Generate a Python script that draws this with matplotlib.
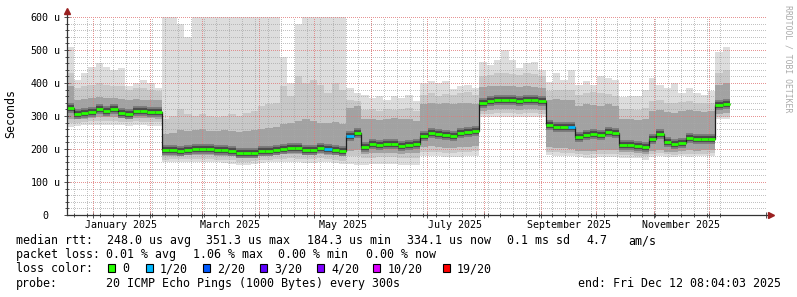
import datetime as dt

import numpy as np
import matplotlib
matplotlib.use("Agg")
import matplotlib.pyplot as plt
import matplotlib.transforms as mtransforms
from matplotlib.patches import Rectangle

plt.rcParams["font.family"] = "DejaVu Sans Mono"

W, H = 797, 297

# one consolidated step every 4 days, day 0 = 2025-01-01
step_days = 4
first_day = -14.5

# median rtt per step (microseconds)
median = [
    325, 305, 308, 313, 320, 316, 320, 310, 306, 316, 314, 313, 312,
    197, 196, 195, 197, 201, 201, 199, 197, 197, 193, 189, 189, 188, 194, 194, 196,
    199, 204, 202, 197, 198, 204, 199, 198, 194,
    238, 248,
    207, 215, 213, 214, 214, 210, 212, 214,
    240, 248, 246, 242, 240, 250, 251, 256,
    340, 345, 347, 350, 350, 346, 347, 348, 345,
    273, 268, 267, 266,
    236, 242, 244, 242, 252, 250,
    211, 212, 210, 206,
    230, 245, 222, 216, 219, 232, 229, 229, 230,
    333, 335,
]
# smoke envelope: max / min of all pings
top = [
    510, 410, 430, 450, 460, 450, 440, 445, 390, 400, 410, 400, 385,
    620, 620, 580, 540, 620, 620, 620, 620, 620, 620, 620, 620, 620, 620, 620, 620,
    480, 400, 580, 620, 620, 620, 620, 620, 620,
    385, 370,
    365, 355, 360, 350, 360, 355, 365, 345,
    400, 405, 400, 405, 382, 390, 394, 385,
    465, 455, 470, 500, 470, 445, 460, 465, 440,
    404, 430, 409, 440,
    394, 405, 395, 420, 415, 410,
    358, 360, 360, 380,
    415, 395, 385, 400, 370, 385, 370, 365, 375,
    495, 510,
]
bottom = [
    268, 270, 272, 272, 274, 273, 274, 272, 270, 272, 272, 271, 270,
    160, 160, 160, 162, 162, 162, 162, 160, 158, 155, 152, 152, 155, 158, 160, 162,
    160, 162, 160, 158, 158, 160, 160, 157, 155,
    155, 152,
    152, 154, 155, 155, 154, 152, 152, 152,
    178, 180, 178, 176, 176, 177, 178, 180,
    296, 298, 298, 298, 297, 296, 297, 298, 296,
    181, 180, 179, 178,
    175, 173, 174, 175, 176, 175,
    174, 174, 172, 168,
    176, 178, 177, 176, 178, 177, 178, 178, 178,
    290, 291,
]
p90 = [
    430, 385, 390, 395, 400, 395, 390, 392, 380, 385, 385, 380, 375,
    290, 300, 320, 305, 300, 305, 300, 298, 300, 305, 300, 310, 315, 330, 335, 340,
    390, 360, 420, 400, 410, 395, 370, 400, 380,
    350, 345,
    318, 320, 315, 322, 318, 320, 325, 315,
    365, 370, 360, 368, 365, 370, 372, 365,
    420, 425, 430, 430, 428, 425, 430, 428, 420,
    375, 380, 378, 380,
    365, 370, 372, 370, 368, 360,
    320, 322, 318, 325,
    345, 350, 340, 338, 342, 345, 340, 338, 340,
    430, 440,
]
p75 = [
    390, 350, 352, 355, 358, 355, 356, 352, 348, 352, 350, 350, 348,
    245, 250, 258, 255, 258, 260, 256, 255, 258, 255, 252, 255, 258, 262, 265, 268,
    275, 280, 285, 290, 285, 280, 278, 282, 275,
    325, 330,
    292, 290, 288, 292, 295, 290, 290, 285,
    335, 340, 335, 338, 336, 340, 340, 335,
    388, 390, 392, 390, 390, 388, 390, 388, 385,
    350, 352, 348, 350,
    330, 335, 332, 330, 335, 330,
    290, 292, 288, 290,
    315, 318, 312, 310, 315, 318, 315, 312, 315,
    395, 400,
]
p25 = [
    292, 290, 292, 295, 298, 296, 297, 293, 290, 295, 294, 293, 292,
    178, 180, 180, 182, 183, 183, 182, 180, 180, 178, 175, 175, 176, 180, 181, 182,
    184, 186, 184, 182, 183, 186, 183, 182, 178,
    195, 198,
    186, 188, 188, 189, 188, 186, 187, 188,
    205, 208, 206, 204, 203, 206, 207, 210,
    316, 318, 320, 320, 320, 318, 320, 320, 318,
    205, 203, 202, 200,
    195, 193, 195, 196, 198, 196,
    190, 190, 188, 186,
    195, 198, 192, 190, 195, 196, 195, 196, 197,
    305, 308,
]
p10 = [
    280, 280, 282, 284, 286, 285, 286, 283, 281, 284, 283, 283, 282,
    168, 169, 169, 170, 171, 171, 170, 168, 168, 166, 162, 162, 164, 168, 168, 170,
    170, 172, 170, 169, 170, 172, 170, 168, 165,
    178, 180,
    172, 174, 175, 176, 175, 172, 173, 174,
    190, 192, 190, 188, 188, 190, 191, 193,
    305, 307, 308, 308, 308, 307, 308, 308, 306,
    190, 190, 189, 188,
    185, 183, 184, 186, 186, 185,
    181, 181, 180, 178,
    185, 187, 184, 182, 185, 186, 185, 186, 187,
    297, 298,
]
# lost pings (out of 20) per step
loss = [
    0, 0, 0, 0, 0, 0, 0, 0, 0, 0, 0, 0, 0,
    0, 0, 0, 0, 0, 0, 0, 0, 0, 0, 0, 0, 0, 0, 0, 0,
    0, 0, 0, 0, 0, 0, 1, 0, 0,
    1, 0,
    0, 0, 0, 0, 0, 0, 0, 0,
    0, 0, 0, 0, 0, 0, 0, 0,
    0, 0, 0, 0, 0, 0, 0, 0, 0,
    0, 0, 0, 1,
    0, 0, 0, 0, 0, 0,
    0, 0, 0, 0,
    0, 0, 0, 0, 0, 0, 0, 0, 0,
    0, 0,
]

loss_labels = ["0", "1/20", "2/20", "3/20", "4/20", "10/20", "19/20"]
loss_values = [0, 1, 2, 3, 4, 10, 19]
loss_palette = ["#26ff00", "#00b8ff", "#0059ff", "#5e00ff", "#7e00ff", "#dd00ff", "#ff0000"]

stats_rtt = ["248.0 us avg", "351.3 us max", "184.3 us min", "334.1 us now", "0.1 ms sd", "4.7", "am/s"]
stats_loss = ["0.01 % avg", "1.06 % max", "0.00 % min", "0.00 % now"]
probe_text = "20 ICMP Echo Pings (1000 Bytes) every 300s"
end_text = "end: Fri Dec 12 08:04:03 2025"


def day(y, m, d):
    return (dt.date(y, m, d) - dt.date(2025, 1, 1)).days


month_starts = [day(2025, m, 1) for m in range(1, 13)] + [day(2026, 1, 1)]
label_months = [(1, "January 2025"), (3, "March 2025"), (5, "May 2025"),
                (7, "July 2025"), (9, "September 2025"), (11, "November 2025")]

GRID = "#a8a8a8"
MGRID = "#e07a7a"
AXIS = "#333333"
ARROW = "#9a2020"

L, R, T, B = 66.5, 766, 17, 215
fig = plt.figure(figsize=(W / 100, H / 100), dpi=100)
fig.patch.set_facecolor("white")
ax = fig.add_axes([L / W, 1 - B / H, (R - L) / W, (B - T) / H])
ax.set_xlim(-14.3, 345.6)
ax.set_ylim(0, 600)
for s in ax.spines.values():
    s.set_visible(False)

edges = first_day + step_days * np.arange(len(median) + 1)

# smoke
ax.stairs(top, edges, baseline=bottom, fill=True, color="#dddddd", lw=0, zorder=1)
ax.stairs(p90, edges, baseline=p10, fill=True, color="#c8c8c8", lw=0, zorder=1)
ax.stairs(p75, edges, baseline=p25, fill=True, color="#a2a2a2", lw=0, zorder=1)

# dotted grid
dots = dict(lw=0.72, ls=(0, (1, 2)), antialiased=False, zorder=2)
for v in range(20, 601, 20):
    if v % 100:
        ax.axhline(v, color=GRID, alpha=0.7, **dots)
for d in np.arange(-10, 346, 7):
    ax.axvline(d, color=GRID, alpha=0.7, **dots)
for v in range(100, 601, 100):
    ax.axhline(v, color=MGRID, alpha=0.8, **dots)
for d in month_starts:
    ax.axvline(d, color=MGRID, alpha=0.8, **dots)

# median with dark core, coloured by loss
ax.hlines(median, edges[:-1], edges[1:], colors="#787878", lw=7.0, zorder=3)
ax.hlines(median, edges[:-1], edges[1:], colors="#4a4a4a", lw=4.2, zorder=3)
ax.stairs(median, edges, baseline=None, color="#1e1e1e", lw=0.9, zorder=3)
seg_colors = [loss_palette[loss_values.index(l)] for l in loss]
ax.hlines(median, edges[:-1], edges[1:], colors=seg_colors, lw=2.0, zorder=4)

# ticks and axes
ax.set_xticks(month_starts)
ax.set_xticks(np.arange(-10, 346, 7), minor=True)
ax.set_yticks(range(0, 601, 100))
ax.set_yticks(range(0, 601, 20), minor=True)
ax.tick_params(which="major", direction="inout", length=4, width=0.6, color=AXIS,
               labelbottom=False, labelleft=False)
ax.tick_params(which="minor", direction="inout", length=2.5, width=0.6, color=AXIS)
ax.plot([0, 0], [0, 1.025], transform=ax.transAxes, color=AXIS, lw=0.9, clip_on=False, zorder=5)
ax.plot([0, 1.004], [0, 0], transform=ax.transAxes, color=AXIS, lw=0.9, clip_on=False, zorder=5)
ax.plot(0, 1.03, marker="^", ms=4, color=ARROW, transform=ax.transAxes, clip_on=False, zorder=6)
ax.plot(1.0072, 0, marker=">", ms=4, color=ARROW, transform=ax.transAxes, clip_on=False, zorder=6)

# y tick labels
ytr = mtransforms.offset_copy(
    mtransforms.blended_transform_factory(fig.transFigure, ax.transData),
    fig=fig, x=0, y=-3.7, units="dots")
for v in range(0, 601, 100):
    ax.text(48.7 / W, v, str(v), transform=ytr, ha="right", va="baseline", fontsize=7.2)
    if v:
        ax.text(54.5 / W, v, "u", transform=ytr, ha="left", va="baseline", fontsize=7.2)

# x tick labels, centred in the month
xtr = mtransforms.blended_transform_factory(ax.transData, fig.transFigure)
for m, lab in label_months:
    mid = (month_starts[m - 1] + month_starts[m]) / 2
    ax.text(mid, 1 - 228 / H, lab, transform=xtr, ha="center", va="baseline", fontsize=7.2)

fig.text(11 / W, 1 - 113.5 / H, "Seconds", rotation=90, ha="center", va="center", fontsize=8.4)
fig.text(788 / W, 1 - 59 / H, "RRDTOOL / TOBI OETIKER", rotation=270, ha="center",
         va="center", fontsize=5.9, color="#aaaaaa")


def legend_text(x, y, s):
    fig.text(x / W, 1 - y / H, s, ha="left", va="baseline", fontsize=8.4)


rows = [244, 258.2, 272.4, 286.6]
legend_text(15.5, rows[0], "median rtt:")
for x, s in zip([106.8, 206.2, 306.8, 406.8, 506.8, 586.2, 627.8], stats_rtt):
    legend_text(x, rows[0], s)
legend_text(15.5, rows[1], "packet loss:")
for x, s in zip([106.5, 192.8, 278.5, 366.2], stats_loss):
    legend_text(x, rows[1], s)
legend_text(15.5, rows[2], "loss color:")
for x, lab, col in zip([108, 145.7, 202.7, 260, 316.7, 373.3, 442.7], loss_labels, loss_palette):
    fig.add_artist(Rectangle((x / W, 1 - 271.8 / H), 7 / W, 7.5 / H, transform=fig.transFigure,
                             facecolor=col, edgecolor="black", lw=0.8))
    legend_text(x + 14.3, rows[2], lab)
legend_text(15.5, rows[3], "probe:")
legend_text(106.5, rows[3], probe_text)
legend_text(577.8, rows[3], end_text)

fig.savefig("out.png", dpi=100, facecolor="white")
